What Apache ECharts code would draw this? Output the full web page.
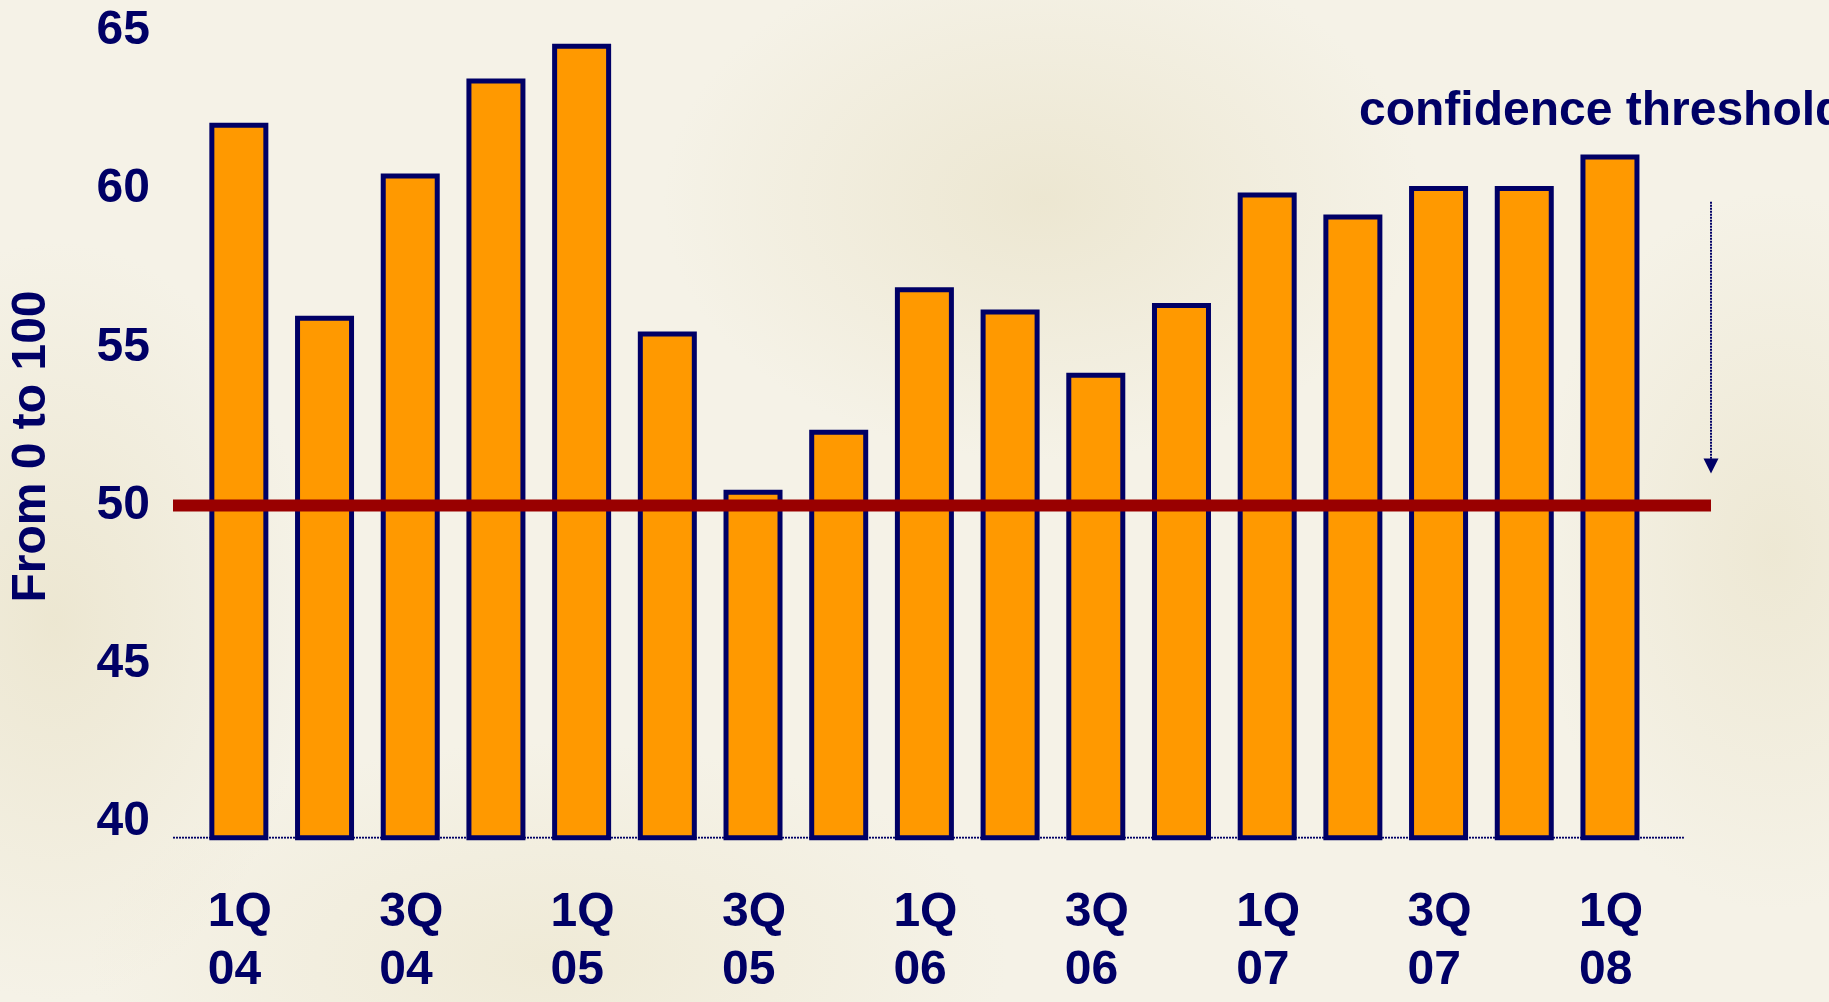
<!DOCTYPE html>
<html>
<head>
<meta charset="utf-8">
<script src="https://cdn.jsdelivr.net/npm/echarts@6/dist/echarts.min.js"></script>
<style>
html,body{margin:0;padding:0;}
body{
  width:1829px;height:1002px;overflow:hidden;
  background:
    radial-gradient(ellipse 380px 260px at 57% 20%, rgba(226,217,183,0.45), rgba(226,217,183,0) 100%),
    radial-gradient(ellipse 260px 380px at 3% 62%, rgba(226,217,183,0.45), rgba(226,217,183,0) 100%),
    radial-gradient(ellipse 240px 360px at 97% 55%, rgba(226,217,183,0.4), rgba(226,217,183,0) 100%),
    radial-gradient(ellipse 460px 220px at 30% 96%, rgba(230,222,190,0.4), rgba(230,222,190,0) 100%),
    #F5F2E7;
}
#chart{width:1829px;height:1002px;}
</style>
</head>
<body>
<div id="chart"></div>
<script>
// ---- data ----
const quarters = ['1Q','2Q','3Q','4Q','1Q','2Q','3Q','4Q','1Q','2Q','3Q','4Q','1Q','2Q','3Q','4Q','1Q'];
const years    = ['04','04','04','04','05','05','05','05','06','06','06','06','07','07','07','07','08'];
const values   = [62.1, 56.0, 60.5, 63.5, 64.6, 55.5, 50.5, 52.4, 56.9, 56.2, 54.2, 56.4, 59.9, 59.2, 60.1, 60.1, 61.1];
const yTicks   = [40, 45, 50, 55, 60, 65];
const thresholdValue = 50;
const arrowFrom = 59.6;
const arrowTo = 51.25;
const yName = 'From 0 to 100';
const noteText = 'confidence threshold';

const categories = quarters.map((q, i) => q + ' ' + years[i]);

const navy = '#000066';
const font = '"Liberation Sans", Arial, sans-serif';

const chart = echarts.init(document.getElementById('chart'), null, {renderer: 'canvas'});

const option = {
  backgroundColor: 'transparent',
  animation: false,
  grid: [
    {left: 191.8, width: 1461, top: 15.2, bottom: 164.2, containLabel: false},
    {left: 173, width: 1538, top: 15.2, bottom: 164.2, containLabel: false}
  ],
  xAxis: [
    {
      type: 'category', gridIndex: 0, data: categories,
      axisLine: {show: false}, axisTick: {show: false},
      axisLabel: {
        interval: 1, margin: 46,
        formatter: function (v) {
          const p = v.split(' ');
          return '{a|' + p[0] + '}\n{a|' + p[1] + '}';
        },
        rich: {
          a: {width: 62, align: 'left', fontFamily: font, fontSize: 48, fontWeight: 'bold', color: navy, lineHeight: 58}
        }
      }
    },
    {type: 'value', gridIndex: 1, min: 0, max: 1, show: false}
  ],
  yAxis: [
    {
      type: 'value', gridIndex: 0, min: 39.5, max: 65.5,
      axisLine: {show: false}, axisTick: {show: false}, splitLine: {show: false},
      axisLabel: {
        customValues: yTicks, margin: 46,
        fontFamily: font, fontSize: 48, fontWeight: 'bold', color: navy
      },
      name: yName, nameLocation: 'middle', nameGap: 140, nameRotate: 90,
      nameTextStyle: {fontFamily: font, fontSize: 48, fontWeight: 'bold', color: navy, padding: [0, 40, 0, 0]}
    },
    {type: 'value', gridIndex: 1, min: 39.5, max: 65.5, show: false}
  ],
  series: [
    {
      type: 'bar', xAxisIndex: 0, yAxisIndex: 0, data: values,
      barWidth: 59,
      itemStyle: {color: '#FF9900', borderColor: navy, borderWidth: 5}
    },
    {
      type: 'line', xAxisIndex: 1, yAxisIndex: 1, symbol: 'none', z: 1,
      data: [[0, 39.5], [0.9824, 39.5]],
      lineStyle: {color: navy, width: 2, type: [2, 1]}
    },
    {
      type: 'line', xAxisIndex: 1, yAxisIndex: 1, symbol: 'none', z: 5,
      data: [[0, thresholdValue], [1, thresholdValue]],
      lineStyle: {color: '#990000', width: 12}
    },
    {
      type: 'line', xAxisIndex: 1, yAxisIndex: 1, symbol: 'none', z: 5,
      data: [[1, arrowFrom], {value: [1, arrowTo], symbol: 'triangle', symbolSize: [15, 15], symbolRotate: 180, itemStyle: {color: navy}}],
      showSymbol: true,
      lineStyle: {color: navy, width: 2, type: [2, 1]}
    }
  ],
  graphic: [
    {
      type: 'text', left: 1359, top: 88,
      style: {text: noteText, font: 'bold 48px ' + font, fill: navy}
    }
  ]
};
chart.setOption(option);
</script>
</body>
</html>
